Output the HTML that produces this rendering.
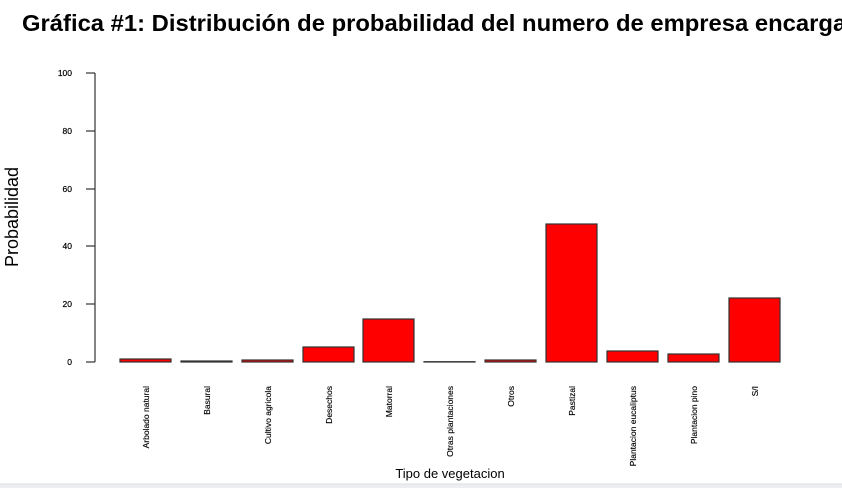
<!DOCTYPE html>
<html><head><meta charset="utf-8"><style>
body{margin:0;background:#fff;width:842px;height:488px;overflow:hidden;font-family:"Liberation Sans",sans-serif}
</style></head><body>
<svg width="842" height="488" xmlns="http://www.w3.org/2000/svg" font-family="Liberation Sans, sans-serif">
<rect x="0" y="0" width="842" height="488" fill="#fff"/>
<rect x="0" y="484" width="842" height="4" fill="#eceef1"/>
<line x1="0" y1="484" x2="842" y2="484" stroke="#dcdfe3"/>
<text x="22" y="31" font-size="23" font-weight="bold" fill="#000" textLength="852" lengthAdjust="spacingAndGlyphs">Gráfica #1: Distribución de probabilidad del numero de empresa encargada</text>
<text transform="translate(18,217) rotate(-90)" text-anchor="middle" font-size="18" fill="#000">Probabilidad</text>
<g stroke="#333" stroke-width="1.2">
<line x1="95" y1="73" x2="95" y2="362"/>
<line x1="86" y1="73" x2="95" y2="73"/>
<line x1="86" y1="131" x2="95" y2="131"/>
<line x1="86" y1="189" x2="95" y2="189"/>
<line x1="86" y1="246" x2="95" y2="246"/>
<line x1="86" y1="304" x2="95" y2="304"/>
<line x1="86" y1="362" x2="95" y2="362"/>
</g>
<g font-size="8.5" text-anchor="end" fill="#000" stroke="#000" stroke-width="0.2">
<text x="72" y="76">100</text><text x="72" y="134">80</text><text x="72" y="192">60</text>
<text x="72" y="249">40</text><text x="72" y="307">20</text><text x="72" y="365">0</text>
</g>
<g fill="#ff0000" stroke="#333" stroke-width="1.2">
<rect x="120" y="359" width="51" height="3"/>
<rect x="181" y="361" width="51" height="1"/>
<rect x="242" y="360" width="51" height="2"/>
<rect x="303" y="347" width="51" height="15"/>
<rect x="363" y="319" width="51" height="43"/>
<rect x="424" y="361.7" width="51" height="0.3"/>
<rect x="485" y="360" width="51" height="2"/>
<rect x="546" y="224" width="51" height="138"/>
<rect x="607" y="351" width="51" height="11"/>
<rect x="668" y="354" width="51" height="8"/>
<rect x="729" y="298" width="51" height="64"/>
</g>
<g font-size="8.5" text-anchor="end" fill="#000" stroke="#000" stroke-width="0.15">
<text transform="translate(149,386) rotate(-90)">Arbolado natural</text>
<text transform="translate(210,386) rotate(-90)">Basural</text>
<text transform="translate(271,386) rotate(-90)">Cultivo agricola</text>
<text transform="translate(332,386) rotate(-90)">Desechos</text>
<text transform="translate(392,386) rotate(-90)">Matorral</text>
<text transform="translate(453,386) rotate(-90)">Otras plantaciones</text>
<text transform="translate(514,386) rotate(-90)">Otros</text>
<text transform="translate(575,386) rotate(-90)">Pastizal</text>
<text transform="translate(636,386) rotate(-90)">Plantacion eucaliptus</text>
<text transform="translate(697,386) rotate(-90)">Plantacion pino</text>
<text transform="translate(758,386) rotate(-90)">S/I</text>
</g>
<text x="450" y="478" text-anchor="middle" font-size="13" fill="#000">Tipo de vegetacion</text>
</svg>
</body></html>
